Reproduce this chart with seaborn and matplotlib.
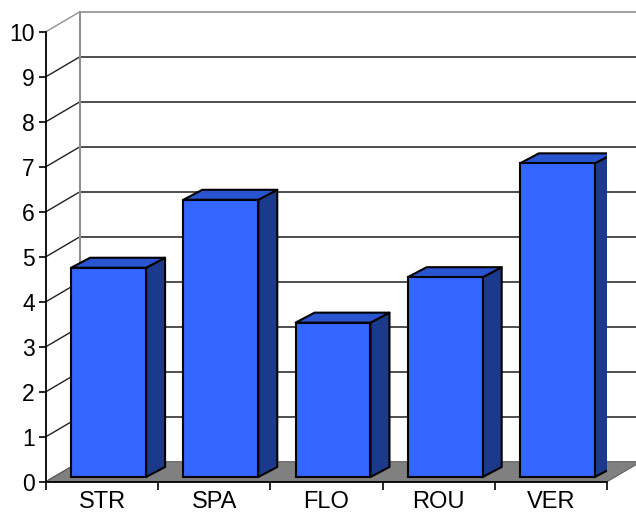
import matplotlib
matplotlib.use("Agg")
import matplotlib.pyplot as plt
import seaborn as sns
import pandas as pd
from matplotlib.patches import Polygon

# ---- data ----
categories = ["STR", "SPA", "FLO", "ROU", "VER"]
values = [4.65, 6.16, 3.43, 4.44, 6.97]
yticks = [0, 1, 2, 3, 4, 5, 6, 7, 8, 9, 10]

sns.set_theme(style="white")
plt.rcParams["font.family"] = ["Liberation Sans", "DejaVu Sans"]

W, H = 636, 514
fig = plt.figure(figsize=(W / 100, H / 100), dpi=100)
x0px, x1px, y0px, y1px = 46, 607, 481.7, 31.7
ax = fig.add_axes([x0px / W, 1 - y0px / H, (x1px - x0px) / W, (y0px - y1px) / H])

df = pd.DataFrame({"cat": categories, "val": values})
sns.barplot(data=df, x="cat", y="val", color="#3366ff", saturation=1,
            width=0.668, edgecolor="black", linewidth=1.5, ax=ax, zorder=5)

ax.set_xlim(-0.5, 4.5)
ax.set_ylim(0, 10)

cat_px = (x1px - x0px) / 5.0
val_px = (y0px - y1px) / 10.0
# wall / floor depth (data units)
DX, DY = 34 / cat_px, 20 / val_px
# bar front-face offset and bar depth
BOX, BOY = 6.5 / cat_px, 4.7 / val_px
BDX, BDY = 19 / cat_px, 10 / val_px

# floor
floor = Polygon([(-0.5, 0), (4.5, 0), (4.5 + DX, DY), (-0.5 + DX, DY)],
                closed=True, facecolor="#808080", edgecolor="#606060",
                linewidth=0.8, clip_on=False, zorder=1)
ax.add_patch(floor)

# back wall gridlines and left wall obliques
xr = (W - x0px) / cat_px - 0.5 + 0.2
for v in yticks[1:]:
    col = "#909090" if v == 10 else "#303030"
    ax.plot([-0.5 + DX, xr], [v + DY, v + DY], color=col, lw=1.2,
            clip_on=False, zorder=0.5)
for v in yticks:
    col = "#909090" if v == 10 else "#202020"
    ax.plot([-0.5, -0.5 + DX], [v, v + DY], color=col, lw=1.0,
            clip_on=False, zorder=0.6)
ax.plot([-0.5 + DX, -0.5 + DX], [DY, 10 + DY], color="#909090", lw=1.5,
        clip_on=False, zorder=0.6)

# 3D faces of bars
for p in ax.patches:
    if p is floor:
        continue
    h = p.get_height()
    p.set_x(p.get_x() + BOX)
    p.set_y(BOY)
    xa = p.get_x()
    xb = xa + p.get_width()
    top = BOY + h
    side = Polygon([(xb, BOY), (xb + BDX, BOY + BDY), (xb + BDX, top + BDY), (xb, top)],
                   closed=True, facecolor="#1c3a8c", edgecolor="black", lw=1.5,
                   joinstyle="round", zorder=4)
    topf = Polygon([(xa, top), (xa + BDX, top + BDY), (xb + BDX, top + BDY), (xb, top)],
                   closed=True, facecolor="#2a55d0", edgecolor="black", lw=1.5,
                   joinstyle="round", zorder=4)
    ax.add_patch(side)
    ax.add_patch(topf)

# axes styling
for s in ["top", "right"]:
    ax.spines[s].set_visible(False)
ax.spines["left"].set_color("black")
ax.spines["bottom"].set_color("black")
ax.spines["left"].set_linewidth(1.3)
ax.spines["bottom"].set_linewidth(1.3)
ax.spines["left"].set_zorder(6)
ax.spines["bottom"].set_zorder(6)

ax.set_yticks(yticks)
ax.set_yticklabels([str(t) for t in yticks], fontsize=16.5, color="black")
ax.tick_params(axis="y", left=True, length=5, width=1.2, color="black", pad=3)
ax.set_xticks(range(len(categories)))
ax.set_xticklabels(categories, fontsize=17, color="black")
ax.set_xticks([i - 0.5 for i in range(len(categories) + 1)], minor=True)
ax.tick_params(axis="x", which="major", bottom=False, length=0, pad=7)
ax.tick_params(axis="x", which="minor", bottom=True, length=6, width=1.2, color="black")
ax.set_xlabel("")
ax.set_ylabel("")
ax.grid(False)
ax.set_facecolor("none")

fig.savefig("out.png", dpi=100)
